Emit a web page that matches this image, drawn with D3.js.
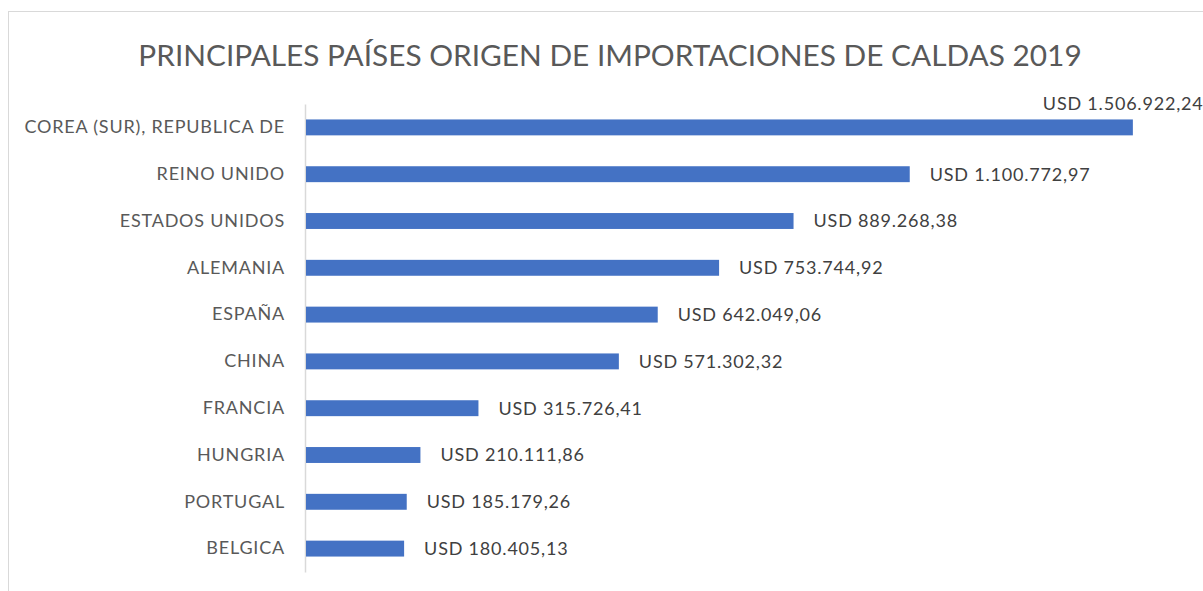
<!DOCTYPE html>
<html>
<head>
<meta charset="utf-8">
<script src="https://cdn.jsdelivr.net/npm/d3@7"></script>
<style>
  body { margin: 0; background: #fff; }
  svg { display: block; }
</style>
</head>
<body>
<svg id="chart"></svg>
<script>
// data
var paises = [
  "COREA (SUR), REPUBLICA DE", "REINO UNIDO", "ESTADOS UNIDOS", "ALEMANIA",
  "ESPAÑA", "CHINA", "FRANCIA", "HUNGRIA", "PORTUGAL", "BELGICA"
];
var valores = [
  1506922.24, 1100772.97, 889268.38, 753744.92,
  642049.06, 571302.32, 315726.41, 210111.86, 185179.26, 180405.13
];
var titulo = "PRINCIPALES PAÍSES ORIGEN DE IMPORTACIONES DE CALDAS 2019";

var setup = {
  width: 1203,
  height: 591,
  left: 305,
  right: 1184,
  top: 104,
  bottom: 572
};

var data = paises.map((p, i) => ({ pais: p, valor: valores[i] }));

var svg = d3.select("#chart")
  .attr("width", setup.width)
  .attr("height", setup.height);

// chart area border (cut off at right and bottom like the screenshot)
svg.append("rect")
  .attr("x", 8.5).attr("y", 11.5)
  .attr("width", setup.width + 10).attr("height", setup.height + 10)
  .attr("fill", "none")
  .attr("stroke", "#d9d9d9");

svg.append("text")
  .attr("x", 610).attr("y", 66)
  .attr("text-anchor", "middle")
  .attr("font-family", "Lato, 'Open Sans', sans-serif")
  .attr("font-size", 29.8)
  .attr("fill", "#595959")
  .text(titulo);

var x = d3.scaleLinear()
  .domain([0, 1600000])
  .range([setup.left, setup.right]);

var y = d3.scaleBand()
  .domain(paises)
  .range([setup.top, setup.bottom])
  .paddingInner(0.66)
  .paddingOuter(0.33);

var yAxis = d3.axisLeft(y).tickSize(0).tickPadding(20);

var g = svg.append("g")
  .attr("transform", "translate(" + setup.left + ",0)")
  .call(yAxis);
g.select(".domain").attr("stroke", "#d9d9d9").attr("stroke-width", 1.5);
g.selectAll("text")
  .attr("font-family", "Lato, 'Open Sans', sans-serif")
  .attr("font-size", 18)
  .attr("letter-spacing", 0.8)
  .attr("fill", "#595959");

svg.selectAll(".bar")
  .data(data)
  .join("rect")
  .attr("class", "bar")
  .attr("x", x(0) + 1)
  .attr("y", d => y(d.pais))
  .attr("width", d => x(d.valor) - x(0) - 1)
  .attr("height", y.bandwidth())
  .attr("fill", "#4472c4");

var fmt = d3.formatLocale({ decimal: ",", thousands: ".", grouping: [3], currency: ["", ""] }).format(",.2f");

svg.selectAll(".lbl")
  .data(data)
  .join("text")
  .attr("class", "lbl")
  .attr("font-family", "Lato, 'Open Sans', sans-serif")
  .attr("font-size", 18)
  .attr("letter-spacing", 0.8)
  .attr("fill", "#404040")
  .attr("x", (d, i) => i === 0 ? x(d.valor) - 90 : x(d.valor) + 20)
  .attr("y", (d, i) => i === 0 ? y(d.pais) - 9 : y(d.pais) + y.bandwidth() / 2)
  .attr("dy", (d, i) => i === 0 ? "0" : "0.35em")
  .text(d => "USD " + fmt(d.valor));
</script>
</body>
</html>
